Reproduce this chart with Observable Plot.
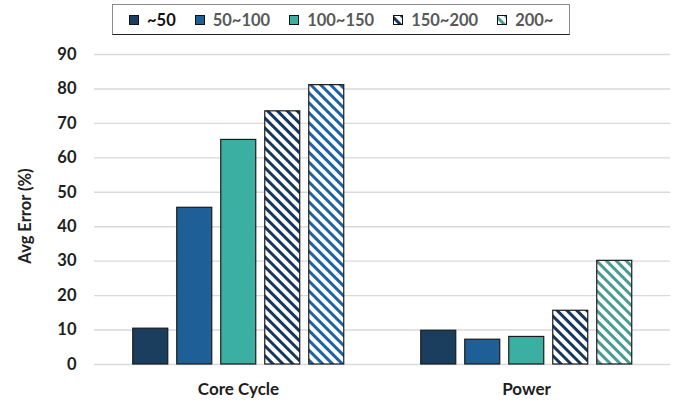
<!DOCTYPE html>
<html><head><meta charset="utf-8">
<script src="https://cdn.jsdelivr.net/npm/d3@7"></script>
<script src="https://cdn.jsdelivr.net/npm/@observablehq/plot@0.6"></script>
<style>
body{margin:0;background:#fff;font-family:Lato,"Open Sans",sans-serif;}
#wrap{width:681px;height:403px;position:relative;overflow:hidden;background:#fff}
#legend{position:absolute;left:112px;top:4px;width:440px;height:29px;border:1px solid #8a8a8a;border-bottom-color:#222;display:flex;align-items:center;padding-left:16px;font-weight:bold;font-size:16.5px;color:#595959}
.item{display:flex;align-items:center;margin-right:19px;white-space:nowrap}
.item svg{margin-right:8px}
#chart{position:absolute;left:0;top:40px}
#ylabel{position:absolute;left:25px;top:216px;transform:translate(-50%,-50%) rotate(-90deg);font-weight:bold;font-size:16.5px;color:#222;white-space:nowrap}
</style></head>
<body>
<svg width="0" height="0" style="position:absolute"><defs id="defs"></defs></svg>
<div id="wrap"><div id="legend"></div><div id="chart"></div><div id="ylabel"></div></div>
<script>
// ---- data ----
const groups = ["Core Cycle", "Power"];
const series = ["~50", "50~100", "100~150", "150~200", "200~"];
const coreCycle = [10.4, 45.5, 65.2, 73.5, 81.1];
const power = [9.8, 7.2, 8.0, 15.6, 30.1];
const yTicks = [0, 10, 20, 30, 40, 50, 60, 70, 80, 90];
const yLabel = "Avg Error (%)";

// ---- styles ----
const solid = {"~50": "#1b3e5e", "50~100": "#1f5f98", "100~150": "#3aafa2"};
const stripeColors = {navy: "#17375e", blue: "#1f63a3", teal: "#4a9a96"};
const stripeFor = {
  "Core Cycle": {"150~200": "navy", "200~": "blue"},
  "Power": {"150~200": "navy", "200~": "teal"}
};
const legendFill = {"~50": solid["~50"], "50~100": solid["50~100"], "100~150": solid["100~150"], "150~200": "url(#st-navy)", "200~": "url(#st-teal)"};

const defs = document.getElementById("defs");
const ns = "http://www.w3.org/2000/svg";
for (const [k, c] of Object.entries(stripeColors)) {
  const p = document.createElementNS(ns, "pattern");
  p.setAttribute("id", "st-" + k);
  p.setAttribute("patternUnits", "userSpaceOnUse");
  p.setAttribute("width", "7");
  p.setAttribute("height", "7");
  p.setAttribute("patternTransform", "rotate(45)");
  p.innerHTML = `<rect width="7" height="7" fill="#fff"/><rect width="7" height="3" fill="${c}"/>`;
  defs.appendChild(p);
}

const data = [];
groups.forEach((g, gi) => {
  const vals = gi === 0 ? coreCycle : power;
  series.forEach((s, i) => data.push({group: g, series: s, value: vals[i]}));
});
const fillOf = d => solid[d.series] || `url(#st-${stripeFor[d.group][d.series]})`;

// ---- legend ----
const legend = document.getElementById("legend");
series.forEach((s, i) => {
  const it = document.createElement("div");
  it.className = "item";
  it.innerHTML = `<svg width="10" height="10"><rect x="0.5" y="0.5" width="9" height="9" fill="${legendFill[s]}" stroke="#111" stroke-width="1"/></svg><span style="color:${i === 0 ? '#111' : '#595959'}">${s}</span>`;
  legend.appendChild(it);
});
document.getElementById("ylabel").textContent = yLabel;

// ---- chart ----
const chart = Plot.plot({
  width: 681,
  height: 363,
  marginTop: 14,
  marginBottom: 39,
  marginLeft: 93.25,
  marginRight: 10.75,
  style: {fontFamily: "Lato, 'Open Sans', sans-serif", fontWeight: "bold", fontSize: "16px", color: "#1e1e1e", background: "#fff"},
  fx: {domain: groups, padding: 0},
  x: {domain: series, paddingInner: 0.21, paddingOuter: 0.85, axis: null},
  y: {domain: [0, 90]},
  color: {type: "identity"},
  marks: [
    Plot.gridY(yTicks, {stroke: "#d9d9d9", strokeOpacity: 1, strokeWidth: 1.4}),
    Plot.barY(data, {fx: "group", x: "series", y: "value", fill: fillOf, stroke: "#1a1a1a", strokeWidth: 1.2}),
    Plot.axisY(yTicks, {tickSize: 0, tickPadding: 18, label: null, fontSize: 16.5}),
    Plot.axisFx({anchor: "bottom", tickSize: 0, tickPadding: 18, label: null, fontSize: 17})
  ]
});
document.getElementById("chart").appendChild(chart);
</script>
</body></html>
